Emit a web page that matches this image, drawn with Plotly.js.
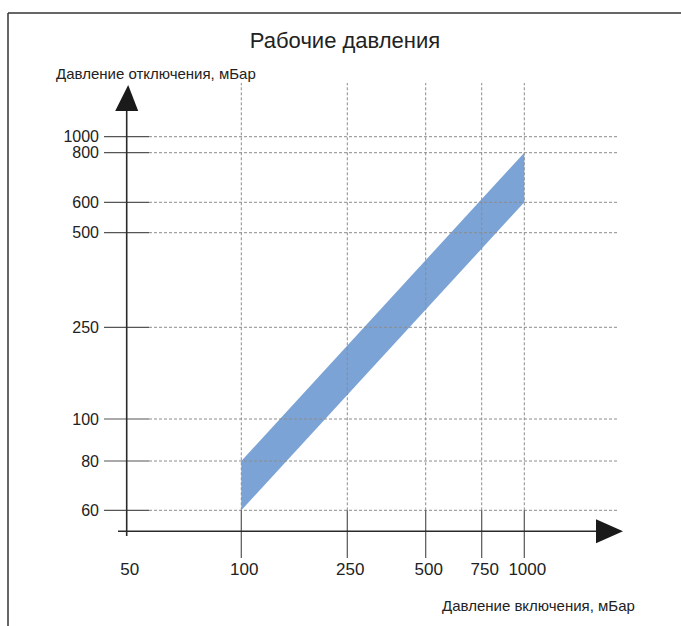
<!DOCTYPE html>
<html>
<head>
<meta charset="utf-8">
<script src="https://cdn.plot.ly/plotly-3.0.1.min.js"></script>
<style>html,body{margin:0;padding:0;background:#fff;}#chart{width:681px;height:626px;}</style>
</head>
<body>
<div id="chart"></div>
<script>
// ---- data ----
const xTickLabels = [50, 100, 250, 500, 750, 1000];            // Давление включения, мБар
const yTickLabels = [60, 80, 100, 250, 500, 600, 800, 1000];   // Давление отключения, мБар
const switchOnPressure = [100, 1000];
const switchOffMin = [60, 600];
const switchOffMax = [80, 800];

// ---- schematic (non-uniform) scale of the original drawing ----
const xScalePos = [0, 114.6, 220.6, 299, 355, 397.6];
const yScalePos = [0, 49.3, 91.3, 183, 277.6, 308, 357.6, 373.6];
function interp(v, vals, pos) {
  for (let i = 0; i < vals.length - 1; i++) {
    if (v >= vals[i] && v <= vals[i + 1]) {
      const t = (v - vals[i]) / (vals[i + 1] - vals[i]);
      return pos[i] + t * (pos[i + 1] - pos[i]);
    }
  }
  return v < vals[0] ? pos[0] : pos[pos.length - 1];
}
const sx = v => interp(v, xTickLabels, xScalePos);
const sy = v => interp(v, yTickLabels, yScalePos);

// band polygon from data
const bandX = [switchOnPressure[0], switchOnPressure[0], switchOnPressure[1], switchOnPressure[1], switchOnPressure[0]].map(sx);
const bandY = [switchOffMin[0], switchOffMax[0], switchOffMax[1], switchOffMin[1], switchOffMin[0]].map(sy);

const W = 681, H = 626;
const X0 = 126.7, Y0 = 510.3; // origin pixel of schematic scale
const xr = [-X0, W - X0];
const yr = [Y0 - H, Y0];

const grid = {color: '#8c8c8c', width: 1, dash: '3px,2px'};
const tickLine = {color: '#555', width: 1.2};
const axLine = {color: '#2a2a2a', width: 1.6};

const shapes = [];
// horizontal gridlines + solid tick stubs
yTickLabels.forEach(v => {
  const y = sy(v);
  shapes.push({type: 'line', xref: 'x', yref: 'y', x0: -22.7, x1: 22.3, y0: y, y1: y, line: tickLine, layer: 'above'});
  shapes.push({type: 'line', xref: 'x', yref: 'y', x0: 22.3, x1: 490.3, y0: y, y1: y, line: grid, layer: 'above'});
});
// vertical gridlines + solid tick stubs
xTickLabels.slice(1).forEach(v => {
  const x = sx(v);
  shapes.push({type: 'line', xref: 'x', yref: 'y', x0: x, x1: x, y0: 0, y1: 427.3, line: grid, layer: 'above'});
  shapes.push({type: 'line', xref: 'x', yref: 'y', x0: x, x1: x, y0: -47.7, y1: 0, line: tickLine, layer: 'above'});
});
// axes with arrows
shapes.push({type: 'line', xref: 'x', yref: 'y', x0: 0, x1: 0, y0: -25.7, y1: 400, line: axLine, layer: 'above'});
shapes.push({type: 'path', xref: 'x', yref: 'y', path: 'M -11.5 399.3 L 11.5 399.3 L 1.5 425.3 Z', fillcolor: '#1a1a1a', line: {width: 0}, layer: 'above'});
shapes.push({type: 'line', xref: 'x', yref: 'y', x0: -8.7, x1: 470, y0: -21, y1: -21, line: axLine, layer: 'above'});
shapes.push({type: 'path', xref: 'x', yref: 'y', path: 'M 469.3 -9 L 469.3 -33 L 496.3 -21 Z', fillcolor: '#1a1a1a', line: {width: 0}, layer: 'above'});
// frame
shapes.push({type: 'line', xref: 'paper', yref: 'paper', x0: 8 / W, x1: 8 / W, y0: 0, y1: 1 - 13 / H, line: {color: '#333', width: 1.5}});
shapes.push({type: 'line', xref: 'paper', yref: 'paper', x0: 8 / W, x1: 1, y0: 1 - 13 / H, y1: 1 - 13 / H, line: {color: '#333', width: 1.5}});

const traces = [{
  type: 'scatter', mode: 'lines', x: bandX, y: bandY,
  fill: 'toself', fillcolor: '#7ba3d6', line: {width: 0, color: '#7ba3d6'},
  hoverinfo: 'skip', showlegend: false
}];

const tickFont = {family: 'Liberation Sans, Arial, sans-serif', size: 17, color: '#222'};
const yTickFont = {family: 'Liberation Sans, Arial, sans-serif', size: 16, color: '#222'};
const titleFam = 'Liberation Sans, Arial, sans-serif';

const layout = {
  width: W, height: H,
  margin: {l: 0, r: 0, t: 0, b: 0},
  paper_bgcolor: '#fff', plot_bgcolor: '#fff',
  showlegend: false,
  title: {text: 'Рабочие давления', x: 345 / W, xanchor: 'center', y: 1 - 40 / H, yanchor: 'middle',
          font: {family: titleFam, size: 22, color: '#222'}},
  xaxis: {range: xr, showgrid: false, zeroline: false, showline: false, ticks: '',
          tickmode: 'array', tickvals: xTickLabels.map(sx), ticktext: xTickLabels.map(String),
          ticklabelshift: 3,
          tickfont: tickFont, anchor: 'free', position: (H - 557) / H, automargin: false, fixedrange: true},
  yaxis: {range: yr, showgrid: false, zeroline: false, showline: false, ticks: '',
          tickmode: 'array', tickvals: yTickLabels.map(sy), ticktext: yTickLabels.map(String),
          tickfont: yTickFont, anchor: 'free', position: 99 / W, automargin: false, fixedrange: true},
  shapes: shapes,
  annotations: [
    {text: 'Давление отключения, мБар', xref: 'paper', yref: 'paper', x: 54 / W, y: 1 - 73 / H,
     xanchor: 'left', yanchor: 'middle', showarrow: false, font: {family: titleFam, size: 15, color: '#222'}},
    {text: 'Давление включения, мБар', xref: 'paper', yref: 'paper', x: 637 / W, y: 1 - 605 / H,
     xanchor: 'right', yanchor: 'middle', showarrow: false, font: {family: titleFam, size: 15, color: '#222'}}
  ]
};

Plotly.newPlot('chart', traces, layout, {displayModeBar: false, staticPlot: true});
</script>
</body>
</html>
